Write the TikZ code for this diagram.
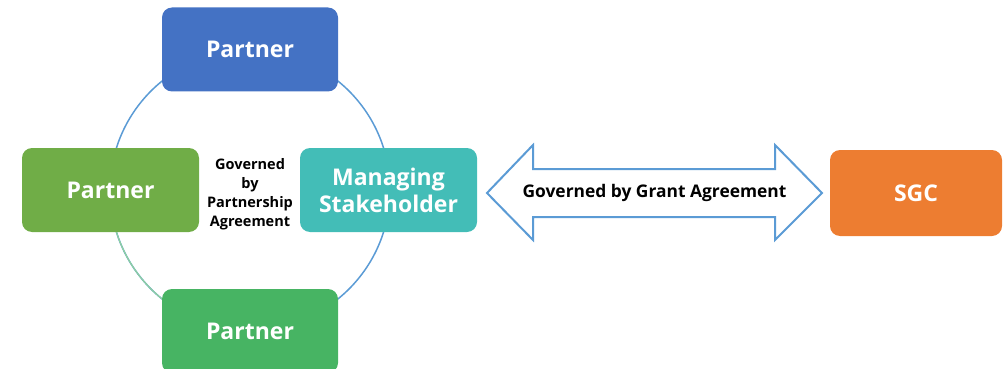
\documentclass[tikz,border=0pt]{standalone}
\usepackage{fontspec}
\setmainfont{Open Sans}
\usetikzlibrary{calc}
\definecolor{cblue}{HTML}{4472C4}
\definecolor{cgreenA}{HTML}{70AD47}
\definecolor{cteal}{HTML}{43BDB7}
\definecolor{cgreenB}{HTML}{47B463}
\definecolor{corange}{HTML}{ED7D31}
\definecolor{cline}{HTML}{5B9BD5}
\definecolor{cgline}{HTML}{8FD19E}
\begin{document}
\begin{tikzpicture}[x=1pt,y=-1pt,
  box/.style={rounded corners=10pt, draw=none, text=white, font=\fontsize{23}{27}\selectfont\bfseries, align=center, inner sep=0pt, minimum width=#1, minimum height=84pt},
  box/.default=176pt]
\useasboundingbox (0,0) rectangle (1007,369);
% ring
\draw[cline, line width=1.5pt] (250,190) circle[radius=140];
\draw[cgline, line width=1.2pt] (250,190) ++(180:140) arc[start angle=180, end angle=90, radius=140];
% nodes
\node[box, fill=cblue] (top) at (250,49.5) {Partner};
\node[box=177pt, fill=cgreenA] (left) at (110.5,190) {Partner};
\node[box=177pt, fill=cteal, font=\fontsize{23}{27}\selectfont\bfseries] (ms) at (388.5,190) {Managing\\Stakeholder};
\node[box, fill=cgreenB] (bot) at (250,331) {Partner};
\node[box=172pt, minimum height=86pt, fill=corange] (sgc) at (916,193) {SGC};
\node[font=\fontsize{14.5}{19}\selectfont\bfseries, align=center] (gov) at (250,194) {Governed\\by\\Partnership\\Agreement};
% double arrow
\coordinate (lt) at (487,193);
\coordinate (rt) at (822,193);
\draw[cline, line width=2pt, fill=white, line join=miter]
  (lt) -- (533,145) -- (533,169) -- (775,169) -- (775,145) -- (rt)
  -- (775,240) -- (775,217) -- (533,217) -- (533,240) -- cycle;
\node[font=\fontsize{17.4}{20}\selectfont\bfseries] (grant) at ($(lt)!0.5!(rt)$) {Governed by Grant Agreement};
\end{tikzpicture}
\end{document}
